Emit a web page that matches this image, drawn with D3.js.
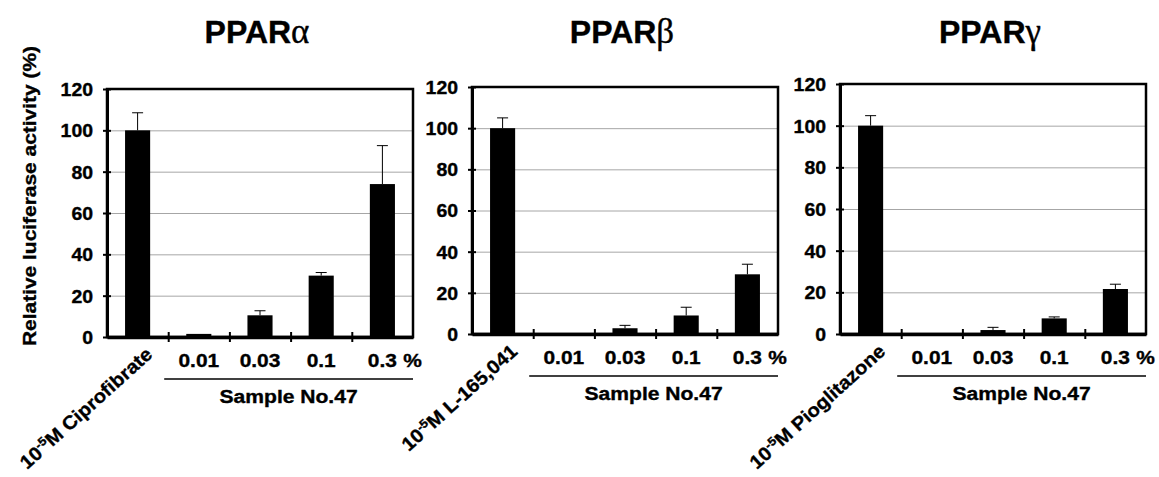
<!DOCTYPE html>
<html>
<head>
<meta charset="utf-8">
<script src="https://cdn.jsdelivr.net/npm/d3@7"></script>
<style>
	body { margin: 0; background: #fff; }
	text { font-family: "Liberation Sans", Arial, sans-serif; font-weight: bold; fill: #000; stroke: #000; stroke-width: 0.35; }
</style>
</head>
<body>
<script>
// values
const receptors	= ['\u03b1', '\u03b2', '\u03b3'];
const controls	= ['Ciprofibrate', 'L-165,041', 'Pioglitazone'];
const doses		= ['0.01', '0.03', '0.1', '0.3'];
const yTicks	= [0, 20, 40, 60, 80, 100, 120];

const alphaMean	= [100, 1.5, 10.5, 29.7, 74];
const alphaErr	= [8.5, 0, 2.2, 1.5, 18.6];
const betaMean	= [100, 0, 2.8, 9, 29];
const betaErr	= [5, 0, 1.4, 4, 4.9];
const gammaMean	= [100, 0, 1.9, 7.5, 21.6];
const gammaErr	= [4.8, 0, 1.3, 0.7, 2.3];

const means	= [alphaMean, betaMean, gammaMean];
const errs	= [alphaErr, betaErr, gammaErr];

// panel frames
const frames = [
	{ left: 107, top: 89, bottom: 337 },
	{ left: 472, top: 87, bottom: 334 },
	{ left: 840, top: 84, bottom: 334 }
];
let plotWidth = 306;

let svg = d3.select('body').append('svg')
	.attr('width', 1159)
	.attr('height', 477);

// widen a text a little, the source picture is stretched sideways
function stretch(sel, k) {
	sel.each(function() {
		let len = this.getComputedTextLength();
		d3.select(this).attr('textLength', len * k).attr('lengthAdjust', 'spacingAndGlyphs');
	});
	return sel;
}

frames.forEach((f, i) => {
	let right	= f.left + plotWidth;
	let n		= means[i].length;

	let x	= d3.scaleBand().domain(d3.range(n)).range([f.left, right]).paddingInner(0.59).paddingOuter(0.295);
	let xl	= d3.scaleLinear().domain([0, n]).range([f.left, right]);
	let y	= d3.scaleLinear().domain([0, 120]).range([f.bottom, f.top]);

	let g = svg.append('g');

	// grid
	g.append('g')
		.attr('transform', 'translate(' + f.left + ',0)')
		.call(d3.axisLeft(y).tickValues(yTicks.slice(1, -1)).tickSize(-plotWidth).tickFormat(''))
		.call((a) => a.select('.domain').remove())
		.selectAll('.tick line').attr('stroke', '#a6a6a6').attr('stroke-width', 1);

	// frame top/right
	g.append('rect')
		.attr('x', f.left).attr('y', f.top)
		.attr('width', plotWidth).attr('height', f.bottom - f.top)
		.attr('fill', 'none').attr('stroke', '#000').attr('stroke-width', 2.5);

	// bars
	let data = means[i].map((v, k) => ({ k: k, v: v, e: errs[i][k] }));

	g.selectAll('.bar')
		.data(data)
	  .enter().append('rect')
		.attr('class', 'bar')
		.attr('x', (o) => x(o.k))
		.attr('width', x.bandwidth())
		.attr('y', (o) => y(o.v))
		.attr('height', (o) => y(0) - y(o.v))
		.attr('fill', '#000');

	// error bars, upper only
	let eb = g.selectAll('.err')
		.data(data.filter((o) => o.e > 0))
	  .enter().append('g')
		.attr('class', 'err')
		.attr('stroke', '#000')
		.attr('stroke-width', 1);

	eb.append('line')
		.attr('x1', (o) => x(o.k) + x.bandwidth() / 2)
		.attr('x2', (o) => x(o.k) + x.bandwidth() / 2)
		.attr('y1', (o) => y(o.v))
		.attr('y2', (o) => y(o.v + o.e));

	eb.append('line')
		.attr('x1', (o) => x(o.k) + x.bandwidth() / 2 - 5.5)
		.attr('x2', (o) => x(o.k) + x.bandwidth() / 2 + 5.5)
		.attr('y1', (o) => y(o.v + o.e))
		.attr('y2', (o) => y(o.v + o.e));

	// y axis
	let ya = g.append('g')
		.attr('transform', 'translate(' + f.left + ',0)')
		.call(d3.axisLeft(y).tickValues(yTicks).tickSize(4).tickSizeOuter(0).tickPadding(10));
	ya.select('.domain').attr('stroke-width', 3);
	ya.selectAll('.tick line').attr('x1', 4).attr('stroke-width', 2);
	stretch(ya.selectAll('.tick text').attr('font-size', 18).attr('dy', '0.36em'), 1.08);

	// x axis
	let xa = g.append('g')
		.attr('transform', 'translate(0,' + f.bottom + ')')
		.call(d3.axisBottom(xl).tickValues(d3.range(1, n)).tickSize(5).tickSizeOuter(0).tickFormat(''));
	xa.select('.domain').attr('stroke-width', 3.5);
	xa.selectAll('.tick line').attr('y1', -5).attr('stroke-width', 2);

	// title
	let t = svg.append('text')
		.attr('x', f.left + 150)
		.attr('y', 43)
		.attr('text-anchor', 'middle')
		.attr('font-size', 32);
	t.append('tspan').text('PPAR');
	t.append('tspan').text(receptors[i])
		.style('font-family', '"Liberation Serif", "Times New Roman", serif')
		.style('font-weight', 'normal')
		.attr('font-size', 35);

	// control label, rotated
	let c = svg.append('text')
		.attr('text-anchor', 'end')
		.attr('font-size', 19)
		.attr('transform', 'translate(' + (x(0) + x.bandwidth() / 2 + 16) + ',' + (f.bottom + 19) + ') rotate(-42)');
	c.append('tspan').text('10');
	c.append('tspan').text('-5').attr('font-size', 12).attr('dy', -7);
	c.append('tspan').text('M ' + controls[i]).attr('dy', 7);
	stretch(c, 1.06);

	// dose labels
	doses.forEach((d, k) => {
		let cx = x(k + 1) + x.bandwidth() / 2;
		let dt = svg.append('text')
			.attr('x', cx)
			.attr('y', f.bottom + 30)
			.attr('text-anchor', 'middle')
			.attr('font-size', 18)
			.text(d);
		stretch(dt, 1.16);
		if (k === doses.length - 1) {
			let w = dt.node().getComputedTextLength() * 1.16;
			stretch(svg.append('text')
				.attr('x', cx + w / 2 + 4)
				.attr('y', f.bottom + 30)
				.attr('font-size', 18)
				.text('%'), 1.16);
		}
	});

	// group underline + label
	let u0 = xl(1) - 4;
	svg.append('line')
		.attr('x1', u0).attr('x2', right)
		.attr('y1', f.bottom + 42).attr('y2', f.bottom + 42)
		.attr('stroke', '#000').attr('stroke-width', 1.5);

	stretch(svg.append('text')
		.attr('x', (u0 + right) / 2)
		.attr('y', f.bottom + 66)
		.attr('text-anchor', 'middle')
		.attr('font-size', 18)
		.text('Sample No.47'), 1.17);
});

// y axis title
svg.append('text')
	.attr('transform', 'translate(36,196) rotate(-90)')
	.attr('text-anchor', 'middle')
	.attr('font-size', 18)
	.attr('textLength', 300)
	.attr('lengthAdjust', 'spacingAndGlyphs')
	.text('Relative luciferase activity (%)');
</script>
</body>
</html>
